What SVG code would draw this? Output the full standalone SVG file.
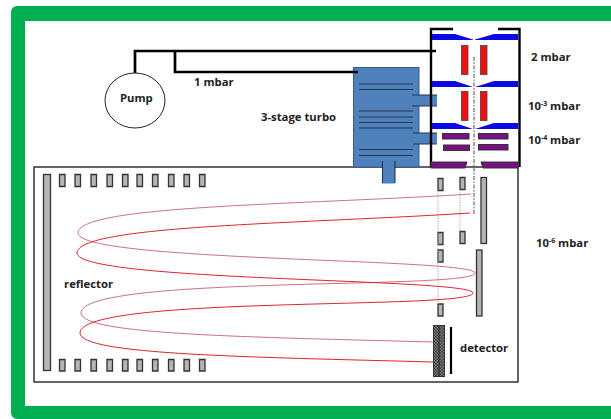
<svg xmlns="http://www.w3.org/2000/svg" width="611" height="419" viewBox="0 0 611 419">
<style>
text{font-family:"Open Sans","Liberation Sans",sans-serif;font-weight:bold;fill:#222;font-size:11.300px}
.g{fill:#b5b5b5;stroke:#333;stroke-width:1.300}
.b{fill:#0a0ae6}
.r{fill:#f01010;stroke:#444;stroke-width:.8}
.p{fill:#7a0f85;stroke:#333;stroke-width:1}
.t{fill:#4f81bd;stroke:#385d8a;stroke-width:1}
.tl{stroke:#25374f;stroke-width:1.100;fill:none}
.w{fill:none;stroke:#000;stroke-width:2.700}
.ion{fill:none;stroke:#e2222e;stroke-width:1}
.ion2{fill:none;stroke:#c8747a;stroke-width:1}
.axis{fill:none;stroke:#777;stroke-width:1.300;stroke-dasharray:4 1.500 1.500 1.500}
.beam{fill:none;stroke:#b5b5b5;stroke-width:1;stroke-dasharray:1.500 1}
</style>
<defs><pattern id="h" width="3" height="3" patternUnits="userSpaceOnUse"><rect width="3" height="3" fill="#888"/><path d="M0 0h1.500v1.500H0z M1.500 1.500H3V3H1.500z" fill="#333"/></pattern></defs>
<g id="frame"><path fill-rule="evenodd" fill="#00b050" d="M17 6H611V419H17a6 6 0 0 1 -6-6V12a6 6 0 0 1 6-6ZM25 21V406H611V21Z"/></g>
<g id="tof-chamber"><path d="M34 167H518V382H34Z" fill="#fff" stroke="#333" stroke-width="1.500"/></g>
<g id="turbo">
<rect class="t" x="353.500" y="67.500" width="65.500" height="99.500"/>
<rect x="412" y="95" width="25" height="11" fill="#4f81bd"/><path class="tl" d="M412 95H437M412 106H437"/>
<rect x="413" y="133" width="24" height="11" fill="#4f81bd"/><path class="tl" d="M413 133H437M413 144H437"/>
<rect x="382" y="161" width="13" height="22.500" fill="#4f81bd"/><path class="tl" d="M382.500 161V183M395 161V183"/>
<path class="tl" d="M359 84H413M359 89.500H413M359 111H413M359 117H413M359 122.500H413M359 128H413M359 149.500H413M359 155.500H413"/>
<text x="261" y="121">3-stage turbo</text>
</g>
<g id="connectors">
<path class="w" d="M135 73V51H436"/>
<path class="w" d="M175 51V72H358"/>
</g>
<g id="pump"><ellipse cx="135" cy="100.500" rx="30" ry="27.500" fill="#fff" stroke="#222" stroke-width="1"/><text x="120" y="102">Pump</text></g>
<g id="source">
<path d="M431 167V29H453M498 29H519.500V167" fill="none" stroke="#000" stroke-width="2.400"/>
<path class="b" d="M432 34H455L473 39.500V40H432ZM518 34H494L475 39.500V40H518Z"/>
<path class="b" d="M432 81H455L473 87H432ZM518 81H494L475 87H518Z"/>
<path class="b" d="M432 123H455L473 129H432ZM518 123H494L475 129H518Z"/>
<rect class="r" x="461.500" y="45.500" width="6.500" height="29"/><rect class="r" x="480.500" y="45.500" width="6.500" height="29"/>
<rect class="r" x="461.500" y="91.500" width="6.500" height="29"/><rect class="r" x="480.500" y="91.500" width="6.500" height="29"/>
<rect class="p" x="442.500" y="133.500" width="26.500" height="5.500"/><rect class="p" x="478.500" y="133.500" width="29.500" height="5.500"/>
<rect class="p" x="443.500" y="145" width="26" height="5.500"/><rect class="p" x="478.500" y="144.500" width="29.500" height="5.500"/>
<path class="p" d="M431 162H467L465 168H431ZM481 162H518V168H483Z"/>
<path class="axis" d="M474 57V214"/>
</g>
<g id="electrodes">
<rect class="g" x="43.500" y="174.500" width="7" height="196"/>
<path class="g" d="M59.500 174.500h5.500v12h-5.500zM75 174.500h5.500v12H75zM91 174.500h5.500v12H91zM107 174.500h5.500v12H107zM122.500 174.500h5.500v12h-5.500zM137 174.500h5.500v12H137zM152.500 174.500h5.500v12h-5.500zM168.500 174.500h5.500v12h-5.500zM184 174.500h5.500v12H184zM199.500 174.500h5.500v12h-5.500z"/>
<path class="g" d="M59.500 359.500h5.500v11.500h-5.500zM75 359.500h5.500v11.500H75zM91 359.500h5.500v11.500H91zM107 359.500h5.500v11.500H107zM122.500 359.500h5.500v11.500h-5.500zM137 359.500h5.500v11.500H137zM152.500 359.500h5.500v11.500h-5.500zM168.500 359.500h5.500v11.500h-5.500zM184 359.500h5.500v11.500H184zM199.500 359.500h5.500v11.500h-5.500z"/>
<path class="g" d="M438 178.500h5v12h-5zM438 232.500h5v12h-5zM438 250h5v12h-5zM438 304h5v12h-5zM460 177.500h5v12h-5zM460 231.500h5v12h-5z"/>
<rect class="g" x="481" y="177.500" width="5.500" height="66"/>
<rect class="g" x="476.500" y="250" width="5.500" height="66"/>
<path class="beam" d="M438 190.500V304M460 189.500V231.500"/>
</g>
<g id="ion-path">
<path class="ion2" d="M471 194C300 205 78 205 78 233C78 262 475 258 475 273C475 290 81 275 81 313C81 335 250 337 433 342"/>
<path class="ion" d="M470 213C300 224 77 225 77 253C77 282 473 278 473 293C473 310 80 295 80 333C80 355 250 357 433 362"/>
</g>
<g id="detector">
<rect x="433.500" y="325.500" width="11" height="51" fill="url(#h)" stroke="#333" stroke-width="1"/>
<path d="M439 326V376" stroke="#222" stroke-width="1"/>
<path d="M451 327V374" stroke="#000" stroke-width="2.200"/>
<text x="460" y="352">detector</text>
</g>
<g id="labels">
<text x="64" y="288">reflector</text>
<text x="194" y="86">1 mbar</text>
<text x="531" y="61">2 mbar</text>
<text x="528" y="110">10<tspan font-size="7" dy="-4">-3</tspan><tspan dy="4"> mbar</tspan></text>
<text x="528" y="144">10<tspan font-size="7" dy="-4">-4</tspan><tspan dy="4"> mbar</tspan></text>
<text x="536" y="247">10<tspan font-size="7" dy="-4">-6</tspan><tspan dy="4"> mbar</tspan></text>
</g>
</svg>
